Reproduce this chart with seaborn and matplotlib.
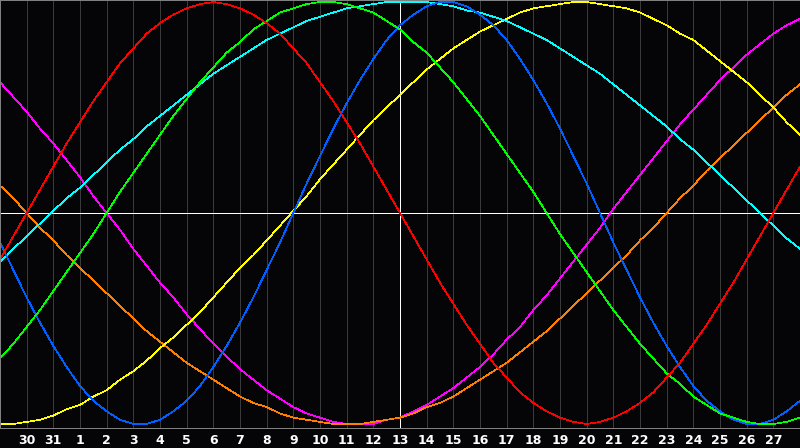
import numpy as np
import pandas as pd
import matplotlib
matplotlib.use("Agg")
import matplotlib.pyplot as plt
import seaborn as sns

# half-day positions across the chart; day labels sit on the grid lines 1..29
steps = list(np.arange(0, 30.5, 0.5))
day_labels = ["30", "31"] + [str(d) for d in range(1, 28)]

# values, -1 .. 1, one every half day
red = [-0.22, -0.11, 0.00, 0.11, 0.22, 0.33, 0.43, 0.53, 0.62, 0.71, 0.78, 0.85,
       0.90, 0.94, 0.97, 0.99, 1.00, 0.99, 0.97, 0.94, 0.90, 0.85, 0.78, 0.71,
       0.62, 0.53, 0.43, 0.33, 0.22, 0.11, 0.00, -0.11, -0.22, -0.33, -0.43, -0.53,
       -0.62, -0.71, -0.78, -0.85, -0.90, -0.94, -0.97, -0.99, -1.00, -0.99, -0.97,
       -0.94, -0.90, -0.85, -0.78, -0.71, -0.62, -0.53, -0.43, -0.33, -0.22, -0.11,
       0.00, 0.11, 0.22]
green = [-0.69, -0.62, -0.54, -0.46, -0.37, -0.28, -0.19, -0.10, 0.00, 0.10, 0.19,
         0.28, 0.37, 0.46, 0.54, 0.62, 0.69, 0.76, 0.81, 0.87, 0.91, 0.95, 0.97,
         0.99, 1.00, 1.00, 0.99, 0.97, 0.95, 0.91, 0.87, 0.81, 0.76, 0.69, 0.62,
         0.54, 0.46, 0.37, 0.28, 0.19, 0.10, 0.00, -0.10, -0.19, -0.28, -0.37, -0.46,
         -0.54, -0.62, -0.69, -0.76, -0.81, -0.87, -0.91, -0.95, -0.97, -0.99, -1.00,
         -1.00, -0.99, -0.97]
blue = [-0.14, -0.27, -0.40, -0.52, -0.63, -0.73, -0.82, -0.89, -0.94, -0.98, -1.00,
        -1.00, -0.98, -0.94, -0.89, -0.82, -0.73, -0.63, -0.52, -0.40, -0.27, -0.14,
        0.00, 0.14, 0.27, 0.40, 0.52, 0.63, 0.73, 0.82, 0.89, 0.94, 0.98, 1.00,
        1.00, 0.98, 0.94, 0.89, 0.82, 0.73, 0.63, 0.52, 0.40, 0.27, 0.14, 0.00,
        -0.14, -0.27, -0.40, -0.52, -0.63, -0.73, -0.82, -0.89, -0.94, -0.98, -1.00,
        -1.00, -0.98, -0.94, -0.89]
cyan = [-0.23, -0.17, -0.11, -0.05, 0.01, 0.07, 0.12, 0.18, 0.24, 0.30, 0.35, 0.41,
        0.46, 0.51, 0.56, 0.61, 0.66, 0.70, 0.74, 0.78, 0.82, 0.85, 0.88, 0.91,
        0.93, 0.95, 0.97, 0.98, 0.99, 1.00, 1.00, 1.00, 1.00, 0.99, 0.98, 0.96,
        0.95, 0.93, 0.91, 0.88, 0.85, 0.82, 0.78, 0.74, 0.70, 0.66, 0.61, 0.56,
        0.51, 0.46, 0.41, 0.35, 0.30, 0.24, 0.18, 0.12, 0.06, 0.00, -0.06, -0.12,
        -0.17]
yellow = [-1.00, -1.00, -0.99, -0.98, -0.96, -0.93, -0.91, -0.87, -0.84, -0.79,
          -0.75, -0.70, -0.64, -0.59, -0.53, -0.47, -0.40, -0.33, -0.26, -0.20,
          -0.13, -0.06, 0.01, 0.08, 0.16, 0.23, 0.30, 0.37, 0.44, 0.50, 0.56, 0.62,
          0.68, 0.73, 0.78, 0.82, 0.86, 0.89, 0.92, 0.95, 0.97, 0.98, 0.99, 1.00,
          1.00, 0.99, 0.98, 0.97, 0.95, 0.92, 0.89, 0.85, 0.82, 0.77, 0.72, 0.67,
          0.62, 0.56, 0.50, 0.43, 0.37]
magenta = [0.62, 0.55, 0.48, 0.40, 0.33, 0.25, 0.17, 0.08, 0.00, -0.08, -0.17,
           -0.25, -0.33, -0.40, -0.48, -0.55, -0.62, -0.68, -0.74, -0.79, -0.84,
           -0.88, -0.92, -0.95, -0.97, -0.99, -1.00, -1.00, -1.00, -0.98, -0.97,
           -0.94, -0.91, -0.87, -0.83, -0.78, -0.73, -0.67, -0.60, -0.54, -0.46,
           -0.39, -0.31, -0.23, -0.15, -0.07, 0.02, 0.10, 0.18, 0.26, 0.34, 0.42,
           0.49, 0.56, 0.63, 0.69, 0.75, 0.80, 0.85, 0.89, 0.92]
orange = [0.13, 0.07, 0.00, -0.07, -0.13, -0.20, -0.26, -0.32, -0.38, -0.44, -0.50,
          -0.56, -0.61, -0.66, -0.71, -0.75, -0.79, -0.83, -0.87, -0.90, -0.92,
          -0.95, -0.97, -0.98, -0.99, -1.00, -1.00, -1.00, -0.99, -0.98, -0.97,
          -0.95, -0.92, -0.90, -0.87, -0.83, -0.79, -0.75, -0.71, -0.66, -0.61,
          -0.56, -0.50, -0.44, -0.38, -0.32, -0.26, -0.20, -0.13, -0.07, 0.00, 0.07,
          0.13, 0.20, 0.26, 0.32, 0.38, 0.44, 0.50, 0.56, 0.61]

series = {
    "magenta": magenta,
    "orange": orange,
    "yellow": yellow,
    "cyan": cyan,
    "blue": blue,
    "green": green,
    "red": red,
}
colours = {
    "magenta": "#ff00ff",
    "orange": "#ff8000",
    "yellow": "#ffff00",
    "cyan": "#00ffff",
    "blue": "#0060ff",
    "green": "#00ff00",
    "red": "#ff0000",
}

df = pd.DataFrame({
    "step": steps * len(series),
    "value": sum(series.values(), []),
    "cycle": [name for name in series for _ in steps],
})

bg = "#050508"
px = 0.72  # one pixel in points at 100 dpi
sns.set_style("dark", {"axes.facecolor": bg, "figure.facecolor": bg})

fig = plt.figure(figsize=(8, 4.48), dpi=100, facecolor=bg)
ax = fig.add_axes([0, 20 / 448, 1, 428 / 448])
ax.set_facecolor(bg)

for k in range(1, 30):
    ax.axvline(k, color="#3a3a3a", lw=px, antialiased=False, zorder=0)
ax.axvline(15, color="white", lw=px, antialiased=False, zorder=1)
ax.axhline(0, color="white", lw=px, antialiased=False, zorder=1)

sns.lineplot(data=df, x="step", y="value", hue="cycle", palette=colours,
             hue_order=list(series), legend=False, ax=ax, linewidth=0.5,
             antialiased=False, zorder=2)

ax.set_xlim(0, 30)
ax.set_ylim(-1.019, 1.0095)
ax.set_xticks(range(1, 30))
ax.set_xticklabels(day_labels, fontweight="bold")
ax.set_yticks([])
ax.tick_params(axis="x", colors="white", length=0, labelsize=9, pad=4)
ax.set_xlabel("")
ax.set_ylabel("")
for side in ["left", "right", "top", "bottom"]:
    ax.spines[side].set_visible(True)
    ax.spines[side].set_color("#808080")
    ax.spines[side].set_linewidth(px)

fig.savefig("out.png", dpi=100, facecolor=bg)
